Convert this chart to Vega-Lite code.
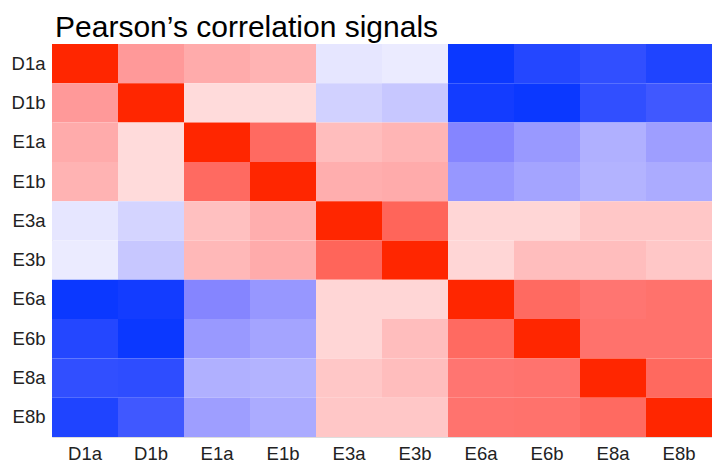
{
  "$schema": "https://vega.github.io/schema/vega-lite/v6.json",
  "autosize": "none",
  "padding": {"left": 52, "top": 44, "right": 0, "bottom": 25},
  "width": 660,
  "height": 393,
  "background": "white",
  "title": {"text": "Pearson’s correlation signals", "anchor": "start", "font": "Liberation Sans", "fontSize": 30, "fontWeight": "normal", "color": "#000000", "offset": 8, "dx": 44, "dy": 7},
  "config": {"view": {"stroke": "#dddddd", "strokeWidth": 1}},
  "data": {"values": [
    {"row":"D1a","col":"D1a","r":1},{"row":"D1a","col":"D1b","r":0.40},{"row":"D1a","col":"E1a","r":0.33},{"row":"D1a","col":"E1b","r":0.30},{"row":"D1a","col":"E3a","r":-0.10},{"row":"D1a","col":"E3b","r":-0.08},{"row":"D1a","col":"E6a","r":-0.97},{"row":"D1a","col":"E6b","r":-0.87},{"row":"D1a","col":"E8a","r":-0.82},{"row":"D1a","col":"E8b","r":-0.89},
    {"row":"D1b","col":"D1a","r":0.40},{"row":"D1b","col":"D1b","r":1},{"row":"D1b","col":"E1a","r":0.14},{"row":"D1b","col":"E1b","r":0.14},{"row":"D1b","col":"E3a","r":-0.18},{"row":"D1b","col":"E3b","r":-0.22},{"row":"D1b","col":"E6a","r":-0.94},{"row":"D1b","col":"E6b","r":-0.97},{"row":"D1b","col":"E8a","r":-0.82},{"row":"D1b","col":"E8b","r":-0.76},
    {"row":"E1a","col":"D1a","r":0.33},{"row":"E1a","col":"D1b","r":0.14},{"row":"E1a","col":"E1a","r":1},{"row":"E1a","col":"E1b","r":0.62},{"row":"E1a","col":"E3a","r":0.26},{"row":"E1a","col":"E3b","r":0.29},{"row":"E1a","col":"E6a","r":-0.48},{"row":"E1a","col":"E6b","r":-0.40},{"row":"E1a","col":"E8a","r":-0.31},{"row":"E1a","col":"E8b","r":-0.38},
    {"row":"E1b","col":"D1a","r":0.30},{"row":"E1b","col":"D1b","r":0.14},{"row":"E1b","col":"E1a","r":0.62},{"row":"E1b","col":"E1b","r":1},{"row":"E1b","col":"E3a","r":0.32},{"row":"E1b","col":"E3b","r":0.33},{"row":"E1b","col":"E6a","r":-0.41},{"row":"E1b","col":"E6b","r":-0.36},{"row":"E1b","col":"E8a","r":-0.30},{"row":"E1b","col":"E8b","r":-0.33},
    {"row":"E3a","col":"D1a","r":-0.10},{"row":"E3a","col":"D1b","r":-0.17},{"row":"E3a","col":"E1a","r":0.25},{"row":"E3a","col":"E1b","r":0.32},{"row":"E3a","col":"E3a","r":1},{"row":"E3a","col":"E3b","r":0.65},{"row":"E3a","col":"E6a","r":0.16},{"row":"E3a","col":"E6b","r":0.16},{"row":"E3a","col":"E8a","r":0.22},{"row":"E3a","col":"E8b","r":0.22},
    {"row":"E3b","col":"D1a","r":-0.08},{"row":"E3b","col":"D1b","r":-0.22},{"row":"E3b","col":"E1a","r":0.28},{"row":"E3b","col":"E1b","r":0.33},{"row":"E3b","col":"E3a","r":0.65},{"row":"E3b","col":"E3b","r":1},{"row":"E3b","col":"E6a","r":0.16},{"row":"E3b","col":"E6b","r":0.26},{"row":"E3b","col":"E8a","r":0.26},{"row":"E3b","col":"E8b","r":0.22},
    {"row":"E6a","col":"D1a","r":-0.97},{"row":"E6a","col":"D1b","r":-0.94},{"row":"E6a","col":"E1a","r":-0.48},{"row":"E6a","col":"E1b","r":-0.41},{"row":"E6a","col":"E3a","r":0.16},{"row":"E6a","col":"E3b","r":0.16},{"row":"E6a","col":"E6a","r":1},{"row":"E6a","col":"E6b","r":0.62},{"row":"E6a","col":"E8a","r":0.56},{"row":"E6a","col":"E8b","r":0.58},
    {"row":"E6b","col":"D1a","r":-0.87},{"row":"E6b","col":"D1b","r":-0.97},{"row":"E6b","col":"E1a","r":-0.40},{"row":"E6b","col":"E1b","r":-0.36},{"row":"E6b","col":"E3a","r":0.16},{"row":"E6b","col":"E3b","r":0.26},{"row":"E6b","col":"E6a","r":0.62},{"row":"E6b","col":"E6b","r":1},{"row":"E6b","col":"E8a","r":0.58},{"row":"E6b","col":"E8b","r":0.58},
    {"row":"E8a","col":"D1a","r":-0.82},{"row":"E8a","col":"D1b","r":-0.83},{"row":"E8a","col":"E1a","r":-0.31},{"row":"E8a","col":"E1b","r":-0.30},{"row":"E8a","col":"E3a","r":0.22},{"row":"E8a","col":"E3b","r":0.26},{"row":"E8a","col":"E6a","r":0.56},{"row":"E8a","col":"E6b","r":0.57},{"row":"E8a","col":"E8a","r":1},{"row":"E8a","col":"E8b","r":0.63},
    {"row":"E8b","col":"D1a","r":-0.89},{"row":"E8b","col":"D1b","r":-0.76},{"row":"E8b","col":"E1a","r":-0.38},{"row":"E8b","col":"E1b","r":-0.33},{"row":"E8b","col":"E3a","r":0.22},{"row":"E8b","col":"E3b","r":0.22},{"row":"E8b","col":"E6a","r":0.57},{"row":"E8b","col":"E6b","r":0.58},{"row":"E8b","col":"E8a","r":0.62},{"row":"E8b","col":"E8b","r":1}
  ]},
  "mark": {"type": "rect", "strokeWidth": 0},
  "encoding": {
    "x": {"field": "col", "type": "nominal", "sort": ["D1a","D1b","E1a","E1b","E3a","E3b","E6a","E6b","E8a","E8b"],
      "scale": {"paddingInner": 0, "paddingOuter": 0},
      "axis": {"title": null, "orient": "bottom", "ticks": false, "domain": false, "labelAngle": 0, "labelFont": "Liberation Sans", "labelFontSize": 18.5, "labelColor": "#222222", "labelPadding": 7}},
    "y": {"field": "row", "type": "nominal", "sort": ["D1a","D1b","E1a","E1b","E3a","E3b","E6a","E6b","E8a","E8b"],
      "scale": {"paddingInner": 0, "paddingOuter": 0},
      "axis": {"title": null, "ticks": false, "domain": false, "labelFont": "Liberation Sans", "labelFontSize": 18.5, "labelColor": "#222222", "labelPadding": 7}},
    "color": {"field": "r", "type": "quantitative",
      "scale": {"domain": [-1, -0.5, 0, 0.5, 1], "range": ["#0433ff", "#8080ff", "#ffffff", "#ff8080", "#ff2600"], "interpolate": "rgb"},
      "legend": null}
  }
}
